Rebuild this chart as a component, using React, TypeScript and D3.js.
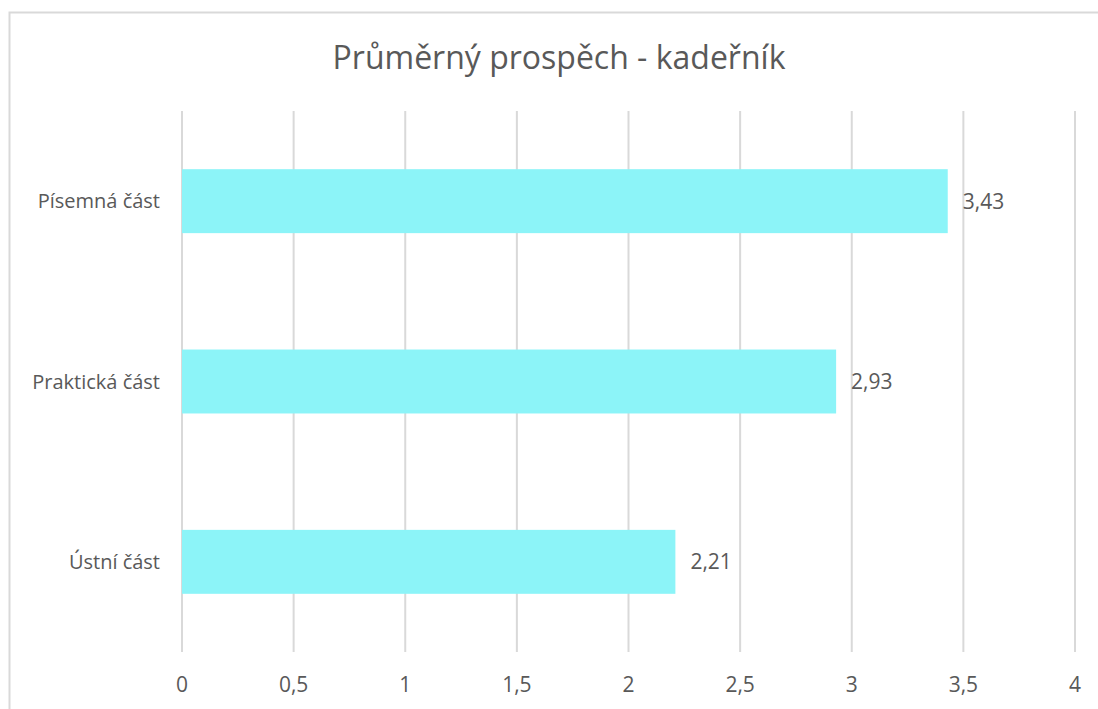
import * as d3 from 'd3';
import * as React from 'react';

const WIDTH = 1098;
const HEIGHT = 709;

const categories = ['Písemná část', 'Praktická část', 'Ústní část'];
const values = [3.43, 2.93, 2.21];
const xTicks = [0, 0.5, 1, 1.5, 2, 2.5, 3, 3.5, 4];

const TITLE = 'Průměrný prospěch - kadeřník';
const TEXT = '#595959';
const GRID = '#d9d9d9';
const BAR = '#8cf4f8';
const FONT = "'Open Sans', 'Noto Sans', sans-serif";

const cz = d3.formatLocale({
  decimal: ',',
  thousands: ' ',
  grouping: [3],
  currency: ['', ' Kč'],
});
const fmt = cz.format('~g');

const plot = { left: 182, right: 1075, top: 111, bottom: 652 };

export default function App() {
  const x = d3.scaleLinear().domain([0, 4]).range([plot.left, plot.right]);
  const y = d3
    .scaleBand<string>()
    .domain(categories)
    .range([plot.top, plot.bottom])
    .padding(0);
  // excel gap width ~182%
  const barH = y.bandwidth() / 2.82;

  return (
    <svg
      width={WIDTH}
      height={HEIGHT}
      style={{ position: 'absolute', left: 0, top: 0, background: '#fff' }}
      fontFamily={FONT}
    >
      <rect x={9.5} y={12.5} width={1110} height={720} fill="#fff" stroke={GRID} strokeWidth={2} />

      <text x={559} y={69} textAnchor="middle" fontSize={32} fill={TEXT}>
        {TITLE}
      </text>

      {xTicks.map(t => (
        <g key={t}>
          <line
            x1={x(t)}
            x2={x(t)}
            y1={plot.top}
            y2={plot.bottom}
            stroke={GRID}
            strokeWidth={2}
          />
          <text x={x(t)} y={692} textAnchor="middle" fontSize={21} fill={TEXT}>
            {fmt(t)}
          </text>
        </g>
      ))}

      {categories.map((c, i) => {
        const cy = (y(c) as number) + y.bandwidth() / 2;
        return (
          <g key={c}>
            <rect
              x={x(0)}
              y={cy - barH / 2}
              width={x(values[i]) - x(0)}
              height={barH}
              fill={BAR}
            />
            <text
              x={160}
              y={cy}
              dy="0.35em"
              textAnchor="end"
              fontSize={20}
              fill={TEXT}
            >
              {c}
            </text>
            <text x={x(values[i]) + 15} y={cy} dy="0.35em" fontSize={21} fill={TEXT}>
              {fmt(values[i])}
            </text>
          </g>
        );
      })}
    </svg>
  );
}
